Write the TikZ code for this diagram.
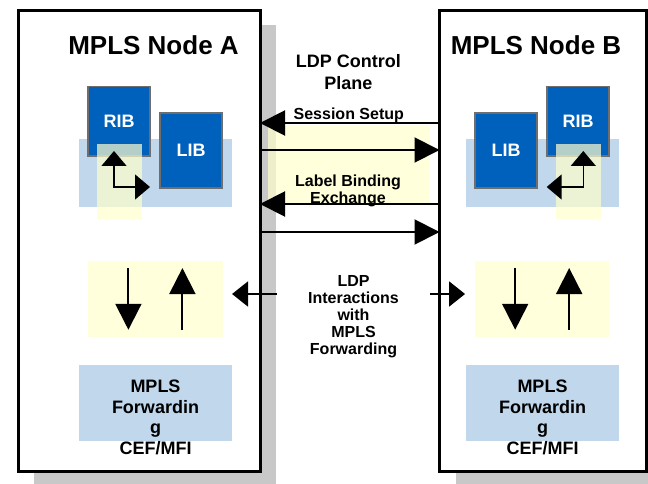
\documentclass[tikz,border=0pt]{standalone}
\usepackage{fontspec}
\setmainfont{Liberation Sans}
\usepackage{xcolor}
\usetikzlibrary{arrows.meta, shadows}
\definecolor{ribblue}{HTML}{0061BC}
\definecolor{edgegray}{HTML}{6E6E6E}
\definecolor{panelblue}{HTML}{C0D7EC}
\definecolor{notepad}{HTML}{FFFFCC}
\definecolor{shadowgray}{HTML}{C8C8C8}
\tikzstyle{router} = [rectangle, draw=black, line width=3pt, fill=white, inner sep=0pt, outer sep=0pt, drop shadow={shadow xshift=16pt, shadow yshift=-15pt, fill=shadowgray, opacity=1}]
\tikzstyle{ribbox} = [rectangle, draw=edgegray, line width=1.5pt, fill=ribblue, text=white, font=\fontsize{18}{20}\selectfont\bfseries, minimum width=62pt, inner sep=0pt, outer sep=0pt]
\tikzstyle{panel} = [rectangle, fill=panelblue, inner sep=0pt, outer sep=0pt]
\tikzstyle{glow} = [rectangle, fill=notepad, fill opacity=0.7, inner sep=0pt, outer sep=0pt]
\tikzstyle{title} = [font=\fontsize{26}{30}\selectfont\bfseries]
\tikzstyle{caption} = [align=center, inner sep=0pt, font=\fontsize{16}{17}\selectfont\bfseries]
\tikzstyle{fwdtext} = [align=center, inner sep=0pt, font=\fontsize{18}{20.4}\selectfont\bfseries]
\tikzstyle{msg} = [draw, line width=2pt, -{Triangle[length=25pt,width=25pt]}]
\tikzstyle{xchg} = [draw, line width=1.5pt, {Triangle[length=15pt,width=25pt]}-{Triangle[length=15pt,width=25pt]}]
\tikzstyle{flow} = [draw, line width=2pt, -{Triangle[length=26pt,width=26pt]}]
\tikzstyle{hook} = [draw, line width=2pt, -{Triangle[length=16pt,width=25pt]}]

\begin{document}
\begin{tikzpicture}[x=1pt, y=-1pt]
    \useasboundingbox (0,0) rectangle (648,484);
    % Routers
    \node [router, minimum width=242pt, minimum height=460.5pt] (nodeA) at (139,240.75) {};
    \node [router, minimum width=206.5pt, minimum height=460.5pt] (nodeB) at (542.75,240.75) {};
    \node [title] (titleA) at (153.5,45.5) {MPLS Node A};
    \node [title] (titleB) at (536,45.5) {MPLS Node B};

    % Tables
    \node [panel, minimum width=152.7pt, minimum height=67.7pt] (panelA) at (155.4,172.9) {};
    \node [panel, minimum width=153pt, minimum height=67.7pt] (panelB) at (542.5,172.9) {};
    \node [ribbox, minimum height=69.5pt] (ribA) at (119.2,121.2) {RIB};
    \node [ribbox, minimum height=75pt] (libA) at (191,150.7) {LIB};
    \node [ribbox, minimum height=69.5pt] (ribB) at (578,121.2) {RIB};
    \node [ribbox, minimum height=75pt] (libB) at (506.2,150.7) {LIB};
    \node [glow, minimum width=45pt, minimum height=75.3pt] (glowA) at (119.5,181.7) {};
    \node [glow, minimum width=45pt, minimum height=75.3pt] (glowB) at (578.5,181.7) {};
    \coordinate (ribtipA) at (114,151);
    \coordinate (libtipA) at (150,187);
    \coordinate (ribtipB) at (583.3,151);
    \coordinate (libtipB) at (546.7,187);
    \path [xchg] (ribtipA) |- (libtipA);
    \path [xchg] (ribtipB) |- (libtipB);

    % Forwarding
    \node [glow, fill opacity=1, fill=notepad!70, minimum width=134.7pt, minimum height=75.7pt] (ifA) at (155.4,298.9) {};
    \node [glow, fill opacity=1, fill=notepad!70, minimum width=134.3pt, minimum height=75.7pt] (ifB) at (542.2,298.9) {};
    \path [flow] ([shift={(-27,7)}]ifA.north) -- ([shift={(-27,-7)}]ifA.south);
    \path [flow] ([shift={(27,-7)}]ifA.south) -- ([shift={(27,7)}]ifA.north);
    \path [flow] ([shift={(-27,7)}]ifB.north) -- ([shift={(-27,-7)}]ifB.south);
    \path [flow] ([shift={(27,-7)}]ifB.south) -- ([shift={(27,7)}]ifB.north);
    \node [panel, minimum width=152.7pt, minimum height=76pt] (fwdA) at (155.4,403) {};
    \node [panel, minimum width=153pt, minimum height=76pt] (fwdB) at (542.5,403) {};
    \node [fwdtext] (fwdtextA) at (155.5,417.3) {MPLS\\Forwardin\\g\\CEF/MFI};
    \node [fwdtext] (fwdtextB) at (542.5,417.3) {MPLS\\Forwardin\\g\\CEF/MFI};

    % Control plane
    \node [glow, minimum width=162pt, minimum height=77.5pt] (plane) at (349,164.2) {};
    \node [caption, font=\fontsize{18}{21.7}\selectfont\bfseries] (ldp) at (348.3,72.4) {LDP Control\\Plane};
    \node [caption] (setup) at (348.8,115.8) {Session Setup};
    \node [caption] (binding) at (348,191) {Label Binding\\Exchange};
    \node [caption] (interact) at (353.5,316.5) {LDP\\Interactions\\with\\MPLS\\Forwarding};
    \coordinate (msg1) at (0,123);
    \coordinate (msg2) at (0,150);
    \coordinate (msg3) at (0,204);
    \coordinate (msg4) at (0,232);
    \coordinate (ldpL) at (277,294);
    \coordinate (ldpR) at (430,294);

    % Edges
    \path [msg] (nodeB.west |- msg1) -- (nodeA.east |- msg1);
    \path [msg] (nodeA.east |- msg2) -- (nodeB.west |- msg2);
    \path [msg] (nodeB.west |- msg3) -- (nodeA.east |- msg3);
    \path [msg] (nodeA.east |- msg4) -- (nodeB.west |- msg4);
    \path [hook] (ldpL) -- ([xshift=9.3pt]ifA.east |- ldpL);
    \path [hook] (ldpR) -- ([xshift=-10pt]ifB.west |- ldpR);
\end{tikzpicture}
\end{document}
